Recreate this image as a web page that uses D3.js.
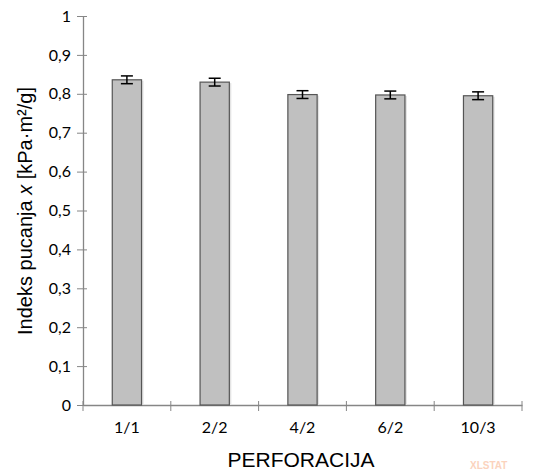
<!DOCTYPE html>
<html><head><meta charset="utf-8">
<script src="https://cdn.jsdelivr.net/npm/d3@7"></script>
<style>body{margin:0;background:#fff}svg{display:block}</style>
</head><body>
<svg id="c" width="548" height="470"></svg>
<script>
const categories = ["1/1", "2/2", "4/2", "6/2", "10/3"];
const values = [0.836, 0.830, 0.798, 0.797, 0.795];
const errors = [0.010, 0.010, 0.010, 0.010, 0.010];
const yTicks = [0, 0.1, 0.2, 0.3, 0.4, 0.5, 0.6, 0.7, 0.8, 0.9, 1];

const svg = d3.select("#c");
const m = {left: 83, right: 26, top: 16, bottom: 65};
const W = 548, H = 470;
const x = d3.scaleBand().domain(categories).range([m.left, W - m.right]).paddingInner(0).paddingOuter(0);
const y = d3.scaleLinear().domain([0, 1]).range([H - m.bottom, m.top]);
const axisCol = "#868686";
const tickFont = "Lato, 'Open Sans', sans-serif";
const fmt = d => d === 0 ? "0" : d === 1 ? "1" : d3.format(".1f")(d).replace(".", ",");

// y axis
const ya = svg.append("g").attr("transform", `translate(${m.left},0)`)
  .call(d3.axisLeft(y).tickValues(yTicks).tickFormat(fmt).tickSizeInner(6).tickSizeOuter(0).tickPadding(6));
ya.select(".domain").attr("stroke", axisCol).attr("stroke-width", 1.3);
ya.selectAll(".tick line").attr("stroke", axisCol).attr("x2", 4).attr("x1", -6);
ya.selectAll(".tick text").attr("font-family", tickFont).attr("font-size", 16).attr("fill", "#000").attr("x", -12);

// x axis
const xa = svg.append("g").attr("transform", `translate(0,${y(0)})`)
  .call(d3.axisBottom(x).tickSize(0).tickPadding(17));
xa.select(".domain").attr("stroke", axisCol).attr("stroke-width", 1.3);
xa.selectAll(".tick text").attr("font-family", tickFont).attr("font-size", 16).attr("fill", "#000");
const bounds = categories.map(c => x(c)).concat([x(categories[categories.length-1]) + x.bandwidth()]);
xa.selectAll(".bt").data(bounds).enter().append("line")
  .attr("x1", d => d).attr("x2", d => d).attr("y1", -4).attr("y2", 6)
  .attr("stroke", axisCol).attr("stroke-width", 1);

// bars
const bw = x.bandwidth() / 3;
const g = svg.append("g");
g.selectAll(".sh").data(values).enter().append("rect")
  .attr("x", (d, i) => x(categories[i]) + (x.bandwidth() - bw) / 2 + 2)
  .attr("y", d => y(d) + 1).attr("width", bw).attr("height", d => y(0) - y(d) - 1)
  .attr("fill", "#e4e4e4");
g.selectAll(".bar").data(values).enter().append("rect")
  .attr("x", (d, i) => x(categories[i]) + (x.bandwidth() - bw) / 2)
  .attr("y", d => y(d)).attr("width", bw).attr("height", d => y(0) - y(d))
  .attr("fill", "#c0c0c0").attr("stroke", "#555").attr("stroke-width", 1.2);

// error bars
const eg = svg.append("g").attr("stroke", "#000").attr("stroke-width", 1.5);
values.forEach((v, i) => {
  const cx = x(categories[i]) + x.bandwidth() / 2;
  eg.append("line").attr("x1", cx).attr("x2", cx).attr("y1", y(v + errors[i])).attr("y2", y(v - errors[i]));
  eg.append("line").attr("x1", cx - 6).attr("x2", cx + 6).attr("y1", y(v + errors[i])).attr("y2", y(v + errors[i]));
  eg.append("line").attr("x1", cx - 6).attr("x2", cx + 6).attr("y1", y(v - errors[i])).attr("y2", y(v - errors[i]));
});

// axis titles
const yl = svg.append("text").attr("transform", `translate(32,${211}) rotate(-90)`)
  .attr("text-anchor", "middle").attr("font-family", "Liberation Sans, Arial, sans-serif").attr("font-size", 20).attr("fill", "#000");
yl.append("tspan").text("Indeks pucanja ");
yl.append("tspan").attr("font-style", "italic").text("x");
yl.append("tspan").text(" [kPa·m²/g]");

svg.append("text").attr("x", 301).attr("y", 467)
  .attr("text-anchor", "middle").attr("font-family", "Liberation Sans, Arial, sans-serif").attr("font-size", 21).attr("fill", "#000")
  .text("PERFORACIJA");

// watermark
svg.append("text").attr("x", 470).attr("y", 469).attr("font-family", "Liberation Sans, Arial, sans-serif")
  .attr("font-weight", "bold").attr("font-size", 10).attr("fill", "#fbd3bd").text("XLSTAT");
</script>
</body></html>
